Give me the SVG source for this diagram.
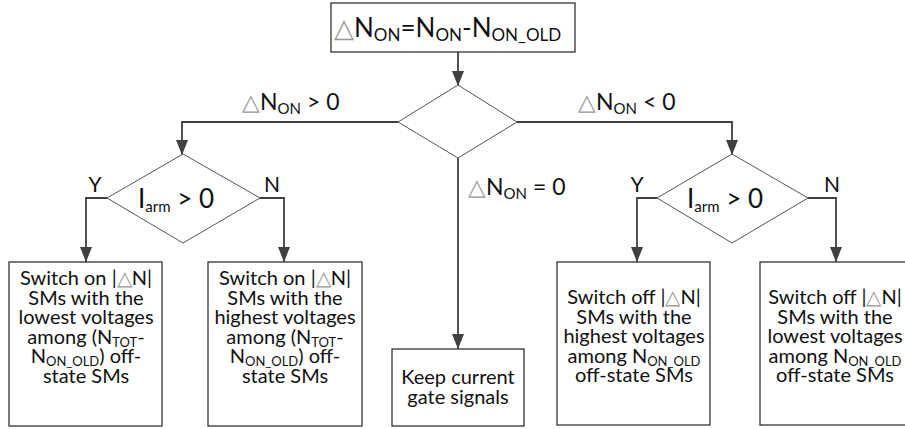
<svg xmlns="http://www.w3.org/2000/svg" width="905" height="429" viewBox="0 0 905 429">
<defs>
<marker id="ah" viewBox="0 0 15 12" refX="15" refY="6" markerWidth="15" markerHeight="12" markerUnits="userSpaceOnUse" orient="auto">
<path d="M0,0 L15,6 L0,12 Z" fill="#404040"/>
</marker>
<style>
text{font-family:Lato,"Open Sans","Liberation Sans",sans-serif;fill:#111}
.box{fill:#fff;stroke:#333;stroke-width:1.3}
.dia{fill:#fff;stroke:#555;stroke-width:1}
.con{fill:none;stroke:#404040;stroke-width:1.8}
.bt{font-size:20px;text-anchor:middle}
.lbl{font-size:23px}
.tri{fill:#999}
.sub{font-size:15px}
.bsub{font-size:13px}
</style>
</defs>
<rect width="905" height="429" fill="#fff"/>
<g id="connectors">
<path class="con" d="M458,52 V86" marker-end="url(#ah)"/>
<path class="con" d="M398,122 H182 V155" marker-end="url(#ah)"/>
<path class="con" d="M517,122 H732 V155" marker-end="url(#ah)"/>
<path class="con" d="M458,158 V349" marker-end="url(#ah)"/>
<path class="con" d="M107,198 H86 V262" marker-end="url(#ah)"/>
<path class="con" d="M260,198 H284 V262" marker-end="url(#ah)"/>
<path class="con" d="M657,198 H637 V262" marker-end="url(#ah)"/>
<path class="con" d="M808,198 H836 V262" marker-end="url(#ah)"/>
</g>
<g id="start">
<rect class="box" x="331" y="3" width="244" height="49"/>
<text x="334" y="37" style="font-size:26px"><tspan class="tri">△</tspan>N<tspan style="font-size:17px" dy="4">ON</tspan><tspan dy="-4">=N</tspan><tspan style="font-size:17px" dy="4">ON</tspan><tspan dy="-4">-N</tspan><tspan style="font-size:17px" dy="4">ON_OLD</tspan></text>
</g>
<g id="decision-main">
<polygon class="dia" points="458,85 517,122 458,158 398,122"/>
</g>
<g id="labels">
<text class="lbl" x="242" y="110"><tspan class="tri">△</tspan>N<tspan class="sub" dy="4">ON</tspan><tspan dy="-4"> &gt; 0</tspan></text>
<text class="lbl" x="578" y="110"><tspan class="tri">△</tspan>N<tspan class="sub" dy="4">ON</tspan><tspan dy="-4"> &lt; 0</tspan></text>
<text class="lbl" x="468" y="195"><tspan class="tri">△</tspan>N<tspan class="sub" dy="4">ON</tspan><tspan dy="-4"> = 0</tspan></text>
<text x="95" y="192" style="font-size:21px" text-anchor="middle">Y</text>
<text x="272" y="192" style="font-size:21px" text-anchor="middle">N</text>
<text x="637" y="192" style="font-size:21px" text-anchor="middle">Y</text>
<text x="832" y="192" style="font-size:21px" text-anchor="middle">N</text>
</g>
<g id="decision-left">
<polygon class="dia" points="183,154 260,198 183,243 107,198"/>
<text x="138" y="208" style="font-size:26px">I<tspan class="sub" dy="4">arm</tspan><tspan dy="-4"> &gt; 0</tspan></text>
</g>
<g id="decision-right">
<polygon class="dia" points="732,154 808,198 732,243 657,198"/>
<text x="687" y="208" style="font-size:26px">I<tspan class="sub" dy="4">arm</tspan><tspan dy="-4"> &gt; 0</tspan></text>
</g>
<g id="box-on-lowest">
<rect class="box" x="9" y="262" width="153" height="164"/>
<text class="bt" x="86" y="285">Switch on |<tspan class="tri">△</tspan>N|<tspan x="86" dy="19.5">SMs with the</tspan><tspan x="86" dy="19.5">lowest voltages</tspan><tspan x="86" dy="19.5">among (N</tspan><tspan class="bsub" dy="3">TOT</tspan><tspan dy="-3">-</tspan><tspan x="86" dy="19.5">N</tspan><tspan class="bsub" dy="3">ON_OLD</tspan><tspan dy="-3">) off-</tspan><tspan x="86" dy="19.5">state SMs</tspan></text>
</g>
<g id="box-on-highest">
<rect class="box" x="208" y="262" width="154" height="164"/>
<text class="bt" x="285" y="285">Switch on |<tspan class="tri">△</tspan>N|<tspan x="285" dy="19.5">SMs with the</tspan><tspan x="285" dy="19.5">highest voltages</tspan><tspan x="285" dy="19.5">among (N</tspan><tspan class="bsub" dy="3">TOT</tspan><tspan dy="-3">-</tspan><tspan x="285" dy="19.5">N</tspan><tspan class="bsub" dy="3">ON_OLD</tspan><tspan dy="-3">) off-</tspan><tspan x="285" dy="19.5">state SMs</tspan></text>
</g>
<g id="box-keep">
<rect class="box" x="392" y="349" width="132" height="77"/>
<text class="bt" x="458" y="384">Keep current<tspan x="458" dy="20">gate signals</tspan></text>
</g>
<g id="box-off-highest">
<rect class="box" x="557" y="262" width="153" height="163"/>
<text class="bt" x="634" y="304">Switch off |<tspan class="tri">△</tspan>N|<tspan x="634" dy="19.5">SMs with the</tspan><tspan x="634" dy="19.5">highest voltages</tspan><tspan x="634" dy="19.5">among N</tspan><tspan class="bsub" dy="3">ON_OLD</tspan><tspan x="634" dy="16.5">off-state SMs</tspan></text>
</g>
<g id="box-off-lowest">
<rect class="box" x="760" y="262" width="153" height="163"/>
<text class="bt" x="835" y="304">Switch off |<tspan class="tri">△</tspan>N|<tspan x="835" dy="19.5">SMs with the</tspan><tspan x="835" dy="19.5">lowest voltages</tspan><tspan x="835" dy="19.5">among N</tspan><tspan class="bsub" dy="3">ON_OLD</tspan><tspan x="835" dy="16.5">off-state SMs</tspan></text>
</g>
</svg>
